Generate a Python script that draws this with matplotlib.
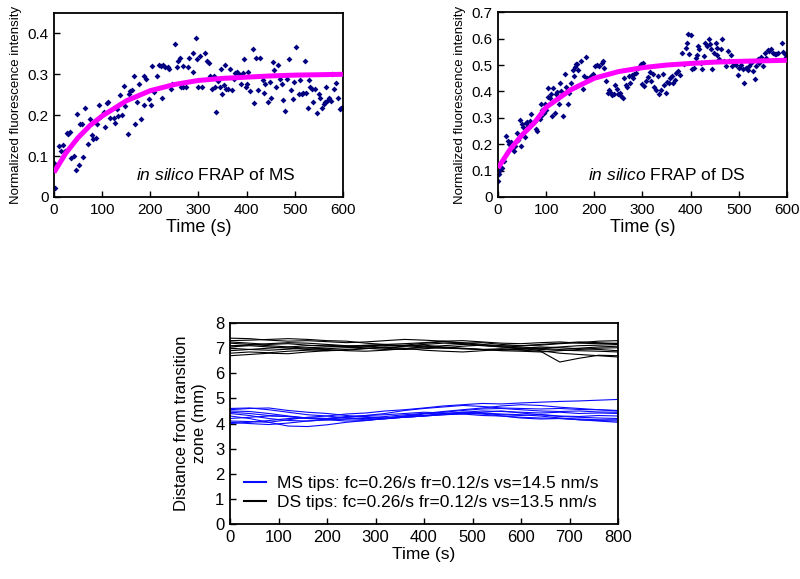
import matplotlib
matplotlib.use("Agg")
import matplotlib.pyplot as plt
from matplotlib.ticker import FuncFormatter

plt.rcParams['font.family'] = ['Liberation Sans', 'DejaVu Sans']
plt.rcParams['mathtext.fontset'] = 'custom'
plt.rcParams['mathtext.it'] = 'Liberation Sans:italic'
plt.rcParams['mathtext.rm'] = 'Liberation Sans'

# FRAP of MS (time s, normalized intensity)
ms_t = [1, 3, 10, 15, 19, 22, 26, 29, 33, 36, 41, 45, 48, 52, 54, 58, 61, 64, 71, 75,
        78, 82, 87, 90, 93, 96, 99, 103, 106, 110, 113, 117, 124, 127, 131, 134, 138, 141, 145, 148,
        154, 155, 157, 162, 166, 169, 173, 176, 180, 187, 188, 192, 197, 201, 204, 208, 215, 218, 222, 225,
        227, 231, 236, 239, 243, 246, 251, 255, 258, 261, 264, 267, 269, 274, 278, 281, 288, 289, 294, 297,
        300, 304, 307, 313, 318, 321, 325, 328, 332, 335, 337, 341, 344, 346, 349, 353, 356, 358, 362, 365,
        370, 374, 377, 381, 385, 388, 392, 395, 399, 402, 404, 407, 413, 416, 420, 423, 428, 434, 437, 439,
        444, 448, 451, 455, 458, 462, 465, 469, 473, 476, 480, 484, 489, 492, 496, 499, 503, 508, 511, 515,
        518, 522, 524, 527, 530, 532, 536, 539, 543, 546, 550, 553, 557, 561, 564, 566, 568, 571, 575, 578,
        582, 585, 589, 594, 596, 599]
ms_v = [0.083, 0.021, 0.124, 0.112, 0.126, 0.112, 0.157, 0.153, 0.159, 0.096, 0.101, 0.065, 0.202, 0.078, 0.179, 0.179, 0.098, 0.217, 0.130, 0.190,
        0.151, 0.142, 0.144, 0.178, 0.226, 0.196, 0.200, 0.208, 0.170, 0.231, 0.232, 0.194, 0.192, 0.180, 0.214, 0.198, 0.250, 0.200, 0.272, 0.223,
        0.155, 0.251, 0.259, 0.262, 0.295, 0.178, 0.232, 0.276, 0.190, 0.224, 0.295, 0.288, 0.239, 0.224, 0.321, 0.257, 0.296, 0.322, 0.321, 0.241,
        0.322, 0.318, 0.317, 0.313, 0.263, 0.276, 0.374, 0.317, 0.333, 0.339, 0.268, 0.268, 0.321, 0.268, 0.317, 0.341, 0.306, 0.351, 0.388, 0.337,
        0.270, 0.344, 0.270, 0.351, 0.333, 0.327, 0.296, 0.265, 0.295, 0.270, 0.208, 0.284, 0.270, 0.314, 0.253, 0.273, 0.322, 0.263, 0.265, 0.313,
        0.261, 0.288, 0.303, 0.306, 0.300, 0.276, 0.303, 0.337, 0.270, 0.276, 0.306, 0.259, 0.363, 0.231, 0.339, 0.262, 0.339, 0.286, 0.255, 0.276,
        0.232, 0.282, 0.241, 0.329, 0.311, 0.268, 0.322, 0.288, 0.276, 0.237, 0.210, 0.288, 0.337, 0.262, 0.239, 0.280, 0.366, 0.251, 0.286, 0.251,
        0.254, 0.333, 0.254, 0.218, 0.286, 0.270, 0.265, 0.232, 0.265, 0.205, 0.251, 0.241, 0.218, 0.227, 0.232, 0.270, 0.234, 0.243, 0.234, 0.300,
        0.265, 0.278, 0.241, 0.214, 0.218, 0.218]
ms_fit_t = [0, 25, 50, 75, 100, 150, 200, 250, 300, 350, 400, 450, 500, 550, 600]
ms_fit_v = [0.060, 0.108, 0.145, 0.175, 0.198, 0.235, 0.260, 0.275, 0.285, 0.290, 0.293, 0.296, 0.298, 0.299, 0.300]

# FRAP of DS
ds_t = [0, 2, 5, 8, 12, 16, 21, 23, 26, 30, 33, 35, 40, 42, 45, 47, 49, 52, 56, 58,
        60, 62, 66, 69, 73, 76, 78, 81, 83, 87, 89, 90, 92, 95, 97, 99, 103, 104, 108, 110,
        113, 115, 118, 120, 122, 124, 127, 128, 131, 135, 139, 142, 146, 148, 151, 155, 157, 160, 163, 165,
        167, 172, 176, 178, 183, 185, 189, 194, 198, 201, 205, 210, 216, 219, 221, 224, 228, 231, 235, 237,
        240, 244, 247, 249, 253, 256, 259, 262, 266, 269, 272, 275, 278, 281, 283, 287, 290, 294, 297, 299,
        301, 304, 308, 311, 315, 318, 321, 325, 328, 332, 335, 339, 342, 345, 349, 351, 355, 358, 361, 364,
        367, 370, 374, 379, 383, 386, 390, 393, 395, 397, 400, 403, 407, 411, 414, 415, 418, 421, 424, 428,
        431, 435, 438, 440, 443, 445, 449, 452, 454, 456, 459, 463, 466, 470, 473, 477, 480, 484, 487, 491,
        494, 498, 501, 505, 508, 512, 515, 519, 522, 526, 529, 533, 536, 540, 543, 547, 550, 554, 557, 561,
        564, 568, 571, 575, 578, 582, 589, 592, 596, 599]
ds_v = [0.062, 0.087, 0.102, 0.108, 0.137, 0.232, 0.213, 0.200, 0.210, 0.181, 0.175, 0.194, 0.244, 0.215, 0.291, 0.194, 0.276, 0.266, 0.228, 0.282,
        0.286, 0.270, 0.288, 0.314, 0.282, 0.288, 0.257, 0.251, 0.301, 0.295, 0.307, 0.351, 0.329, 0.320, 0.354, 0.329, 0.412, 0.379, 0.377, 0.389,
        0.307, 0.414, 0.320, 0.389, 0.398, 0.375, 0.351, 0.433, 0.400, 0.307, 0.467, 0.417, 0.351, 0.395, 0.433, 0.480, 0.460, 0.492, 0.505, 0.503,
        0.482, 0.515, 0.408, 0.458, 0.530, 0.452, 0.450, 0.458, 0.467, 0.496, 0.502, 0.496, 0.509, 0.515, 0.490, 0.440, 0.395, 0.404, 0.395, 0.386,
        0.392, 0.424, 0.408, 0.389, 0.395, 0.383, 0.374, 0.452, 0.424, 0.417, 0.458, 0.433, 0.462, 0.452, 0.465, 0.471, 0.490, 0.496, 0.505, 0.429,
        0.509, 0.421, 0.440, 0.455, 0.475, 0.440, 0.467, 0.417, 0.404, 0.458, 0.392, 0.404, 0.467, 0.426, 0.395, 0.437, 0.433, 0.450, 0.458, 0.433,
        0.442, 0.471, 0.477, 0.462, 0.547, 0.505, 0.565, 0.584, 0.618, 0.540, 0.612, 0.484, 0.490, 0.528, 0.537, 0.572, 0.560, 0.509, 0.484, 0.534,
        0.584, 0.574, 0.600, 0.578, 0.562, 0.484, 0.547, 0.584, 0.565, 0.537, 0.524, 0.559, 0.597, 0.515, 0.496, 0.553, 0.515, 0.537, 0.496, 0.509,
        0.499, 0.461, 0.490, 0.499, 0.486, 0.433, 0.490, 0.481, 0.496, 0.506, 0.477, 0.448, 0.496, 0.524, 0.509, 0.531, 0.496, 0.544, 0.528, 0.557,
        0.553, 0.559, 0.547, 0.540, 0.540, 0.547, 0.584, 0.549, 0.540, 0.531]
ds_fit_t = [0, 25, 50, 75, 100, 150, 200, 250, 300, 350, 400, 450, 500, 550, 600]
ds_fit_v = [0.110, 0.180, 0.235, 0.280, 0.340, 0.405, 0.450, 0.475, 0.490, 0.500, 0.506, 0.511, 0.514, 0.516, 0.518]

# tip traces, distance (mm) sampled every 40 s
trace_t = [0, 40, 80, 120, 160, 200, 240, 280, 320, 360, 400, 440, 480, 520, 560, 600, 640, 680, 720, 760, 800]
ms_tips = [
    [4.60, 4.62, 4.55, 4.45, 4.35, 4.30, 4.38, 4.42, 4.50, 4.55, 4.62, 4.70, 4.75, 4.80, 4.78, 4.82, 4.85, 4.88, 4.90, 4.93, 4.96],
    [4.50, 4.48, 4.40, 4.30, 4.22, 4.20, 4.28, 4.32, 4.40, 4.52, 4.60, 4.66, 4.72, 4.68, 4.62, 4.60, 4.58, 4.60, 4.56, 4.55, 4.52],
    [4.40, 4.32, 4.20, 4.12, 4.10, 4.15, 4.18, 4.22, 4.28, 4.35, 4.40, 4.38, 4.42, 4.40, 4.35, 4.32, 4.36, 4.30, 4.28, 4.32, 4.30],
    [4.30, 4.20, 4.05, 3.90, 3.88, 3.95, 4.05, 4.12, 4.20, 4.25, 4.30, 4.35, 4.40, 4.38, 4.30, 4.22, 4.18, 4.20, 4.15, 4.12, 4.10],
    [4.00, 4.05, 4.12, 4.20, 4.22, 4.18, 4.25, 4.28, 4.22, 4.30, 4.32, 4.40, 4.45, 4.42, 4.38, 4.35, 4.30, 4.22, 4.15, 4.10, 4.05],
    [4.55, 4.60, 4.62, 4.52, 4.45, 4.40, 4.32, 4.25, 4.20, 4.25, 4.30, 4.38, 4.45, 4.50, 4.48, 4.45, 4.42, 4.45, 4.40, 4.42, 4.40],
    [4.20, 4.25, 4.30, 4.28, 4.20, 4.15, 4.10, 4.12, 4.20, 4.25, 4.30, 4.35, 4.38, 4.45, 4.50, 4.42, 4.35, 4.28, 4.25, 4.22, 4.20],
    [4.10, 4.08, 4.05, 4.15, 4.25, 4.30, 4.22, 4.15, 4.18, 4.28, 4.38, 4.45, 4.52, 4.58, 4.60, 4.55, 4.50, 4.48, 4.50, 4.46, 4.45],
    [4.45, 4.40, 4.32, 4.28, 4.22, 4.20, 4.25, 4.32, 4.35, 4.40, 4.45, 4.42, 4.38, 4.32, 4.30, 4.25, 4.22, 4.20, 4.18, 4.15, 4.15],
    [4.05, 4.00, 3.96, 4.02, 4.10, 4.15, 4.18, 4.20, 4.22, 4.30, 4.40, 4.48, 4.55, 4.62, 4.70, 4.75, 4.72, 4.65, 4.60, 4.55, 4.50],
]
ds_tips = [
    [7.40, 7.38, 7.32, 7.28, 7.30, 7.26, 7.22, 7.25, 7.30, 7.35, 7.32, 7.28, 7.20, 7.22, 7.15, 7.10, 7.12, 7.18, 7.22, 7.28, 7.30],
    [7.30, 7.32, 7.35, 7.38, 7.35, 7.30, 7.28, 7.20, 7.15, 7.18, 7.22, 7.28, 7.30, 7.25, 7.20, 7.18, 7.22, 7.25, 7.20, 7.18, 7.20],
    [7.20, 7.15, 7.10, 7.05, 7.00, 6.98, 7.02, 7.05, 7.10, 7.12, 7.20, 7.25, 7.22, 7.15, 7.10, 7.05, 7.00, 6.95, 7.00, 7.05, 7.08],
    [7.10, 7.12, 7.18, 7.22, 7.20, 7.15, 7.10, 7.08, 7.00, 6.95, 6.98, 7.02, 7.08, 7.12, 7.05, 7.00, 6.95, 6.92, 6.90, 6.88, 6.85],
    [7.00, 6.95, 6.92, 6.96, 7.02, 7.05, 7.08, 7.12, 7.15, 7.10, 7.05, 7.00, 6.98, 6.95, 6.92, 6.95, 7.00, 7.05, 7.10, 7.12, 7.15],
    [6.90, 6.95, 7.00, 7.05, 7.10, 7.12, 7.08, 7.00, 6.95, 6.98, 7.05, 7.10, 7.15, 7.10, 7.05, 7.00, 6.90, 6.80, 6.75, 6.70, 6.65],
    [6.80, 6.85, 6.82, 6.88, 6.92, 6.95, 6.90, 6.88, 6.92, 6.98, 7.05, 7.02, 6.98, 6.95, 6.98, 6.92, 6.88, 6.45, 6.60, 6.72, 6.70],
    [6.70, 6.75, 6.80, 6.78, 6.85, 6.90, 6.95, 7.00, 7.02, 7.08, 7.12, 7.05, 7.00, 6.95, 6.90, 6.88, 6.85, 6.90, 6.95, 7.00, 7.02],
    [7.25, 7.20, 7.15, 7.18, 7.12, 7.08, 7.05, 7.10, 7.12, 7.08, 7.15, 7.20, 7.18, 7.12, 7.08, 7.10, 7.15, 7.20, 7.25, 7.22, 7.18],
    [7.05, 7.10, 7.05, 7.00, 6.95, 6.90, 6.92, 6.98, 7.05, 7.00, 6.92, 6.88, 6.85, 6.90, 6.95, 7.00, 7.05, 7.02, 6.98, 6.95, 6.90],
]

fmt = FuncFormatter(lambda v, p: '%g' % round(v, 3))


def style(ax, size):
    ax.tick_params(direction='in', length=4, width=1, labelsize=size, pad=4)
    for s in ax.spines.values():
        s.set_linewidth(1.3)


fig = plt.figure(figsize=(8, 5.79), dpi=100)

ax1 = fig.add_axes([0.0675, 0.6598, 0.361, 0.3178])
ax1.scatter(ms_t, ms_v, s=9, marker='D', color='#000080', linewidths=0, zorder=2)
ax1.plot(ms_fit_t, ms_fit_v, color='#ff00ff', lw=3.6, zorder=3, solid_capstyle='butt')
ax1.set_xlim(0, 600)
ax1.set_ylim(0, 0.45)
ax1.set_yticks([0, 0.1, 0.2, 0.3, 0.4])
ax1.yaxis.set_major_formatter(fmt)
ax1.set_xlabel('Time (s)', fontsize=13, labelpad=2)
ax1.set_ylabel('Normalized fluorescence intensity', fontsize=9.5, labelpad=4)
ax1.text(0.284, 0.12, r'$\mathit{in\ silico}$ FRAP of MS', transform=ax1.transAxes,
         ha='left', va='center', fontsize=12.5)
style(ax1, 11)

ax2 = fig.add_axes([0.6225, 0.6598, 0.361, 0.319])
ax2.scatter(ds_t, ds_v, s=9, marker='D', color='#000080', linewidths=0, zorder=2)
ax2.plot(ds_fit_t, ds_fit_v, color='#ff00ff', lw=3.6, zorder=3, solid_capstyle='butt')
ax2.set_xlim(0, 600)
ax2.set_ylim(0, 0.7)
ax2.set_yticks([0, 0.1, 0.2, 0.3, 0.4, 0.5, 0.6, 0.7])
ax2.yaxis.set_major_formatter(fmt)
ax2.set_xlabel('Time (s)', fontsize=13, labelpad=2)
ax2.set_ylabel('Normalized fluorescence intensity', fontsize=9.5, labelpad=4)
ax2.text(0.311, 0.12, r'$\mathit{in\ silico}$ FRAP of DS', transform=ax2.transAxes,
         ha='left', va='center', fontsize=12.5)
style(ax2, 11)

ax3 = fig.add_axes([0.2875, 0.095, 0.485, 0.347])
for i, tr in enumerate(ms_tips):
    ax3.plot(trace_t, tr, color='#0a0aff', lw=0.8,
             label='MS tips: fc=0.26/s fr=0.12/s vs=14.5 nm/s' if i == 0 else None)
for i, tr in enumerate(ds_tips):
    ax3.plot(trace_t, tr, color='black', lw=0.8,
             label='DS tips: fc=0.26/s fr=0.12/s vs=13.5 nm/s' if i == 0 else None)
ax3.set_xlim(0, 800)
ax3.set_ylim(0, 8)
ax3.set_xticks(range(0, 801, 100))
ax3.set_yticks(range(0, 9))
ax3.set_xlabel('Time (s)', fontsize=12.5, labelpad=2)
ax3.set_ylabel('Distance from transition\nzone (mm)', fontsize=12, labelpad=6)
leg = ax3.legend(loc='lower left', bbox_to_anchor=(0.035, 0.07), frameon=False,
                 fontsize=12.5, handlelength=1.3, handletextpad=0.6, labelspacing=0.2,
                 borderpad=0, borderaxespad=0)
for h in leg.get_lines():
    h.set_linewidth(1.5)
style(ax3, 12)

fig.savefig('out.png', dpi=100)
